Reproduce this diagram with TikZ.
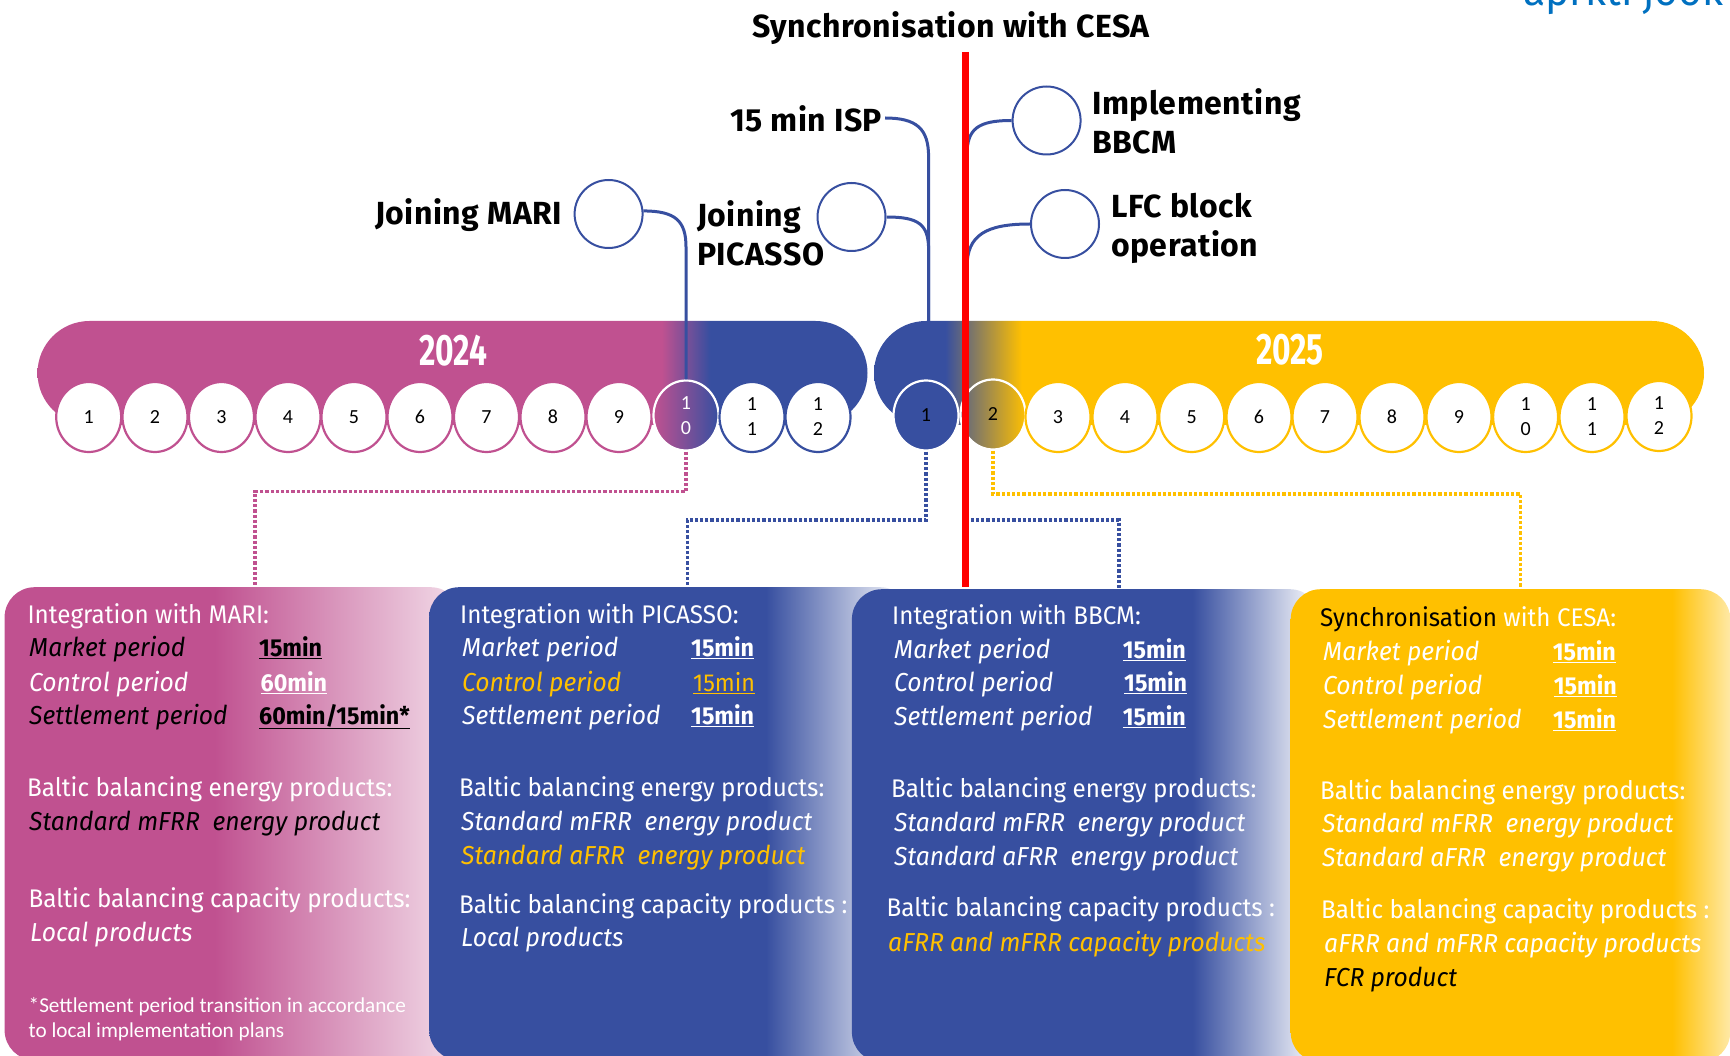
\documentclass[tikz,border=0pt]{standalone}
\usepackage{fontspec}
\setmainfont[FakeStretch = 0.95]{Fira Sans}
\newfontfamily\headfont[FakeStretch = 1, LetterSpace = 1.5]{Fira Sans}
\newfontfamily\notefont{Carlito}
\newfontfamily\digitfont{Carlito}
\newfontfamily\yearfont[FakeStretch = 0.72]{Fira Sans}
\usetikzlibrary{shapes.geometric}

\definecolor{marikey}{HTML}{C05190}
\definecolor{balt}{HTML}{374FA0}
\definecolor{gold}{HTML}{FFC000}
\definecolor{linkblue}{HTML}{0070C0}

\pgfdeclarehorizontalshading{pinkblue}{100bp}{color(0bp)=(marikey); color(62.6bp)=(marikey); color(65.5bp)=(balt); color(100bp)=(balt)}
\pgfdeclarehorizontalshading{bluegold}{100bp}{color(0bp)=(balt); color(29.3bp)=(balt); color(33.9bp)=(gold); color(100bp)=(gold)}
\pgfdeclarehorizontalshading{pinkfade}{100bp}{color(0bp)=(marikey); color(48bp)=(marikey); color(75bp)=(marikey!20!white); color(100bp)=(marikey!20!white)}
\pgfdeclarehorizontalshading{bluefade}{100bp}{color(0bp)=(balt); color(60bp)=(balt); color(75bp)=(white); color(100bp)=(white)}
\pgfdeclarehorizontalshading{bbcmfade}{100bp}{color(0bp)=(balt); color(61.4bp)=(balt); color(75bp)=(white); color(100bp)=(white)}
\pgfdeclarehorizontalshading{goldfade}{100bp}{color(0bp)=(gold); color(68.4bp)=(gold); color(75bp)=(gold!35!white); color(100bp)=(gold!35!white)}

\begin{document}
\begin{tikzpicture}[
    x = 1pt,
    y = -1pt,
    yearbar/.style = {shade,
      inner sep = 0,
      minimum width = {830pt},
      minimum height = {104pt},
      rounded corners = 52pt},
    panel/.style = {shade,
      anchor = north west,
      inner sep = 0,
      minimum height = {473pt},
      rounded corners = 30pt},
    month/.style = {ellipse,
      draw,
      fill = white,
      line width = 2.2pt,
      inner sep = 0,
      align = center,
      font = \digitfont\fontsize{20}{25}\selectfont,
      minimum width = {65pt},
      minimum height = {70pt}},
    pinkring/.style = {draw = marikey},
    bluering/.style = {draw = balt},
    goldring/.style = {draw = gold},
    hot/.style = {draw = white},
    milestone/.style = {circle,
      draw = balt,
      line width = 2pt,
      inner sep = 0,
      minimum size = {68pt}},
    head/.style = {font = \headfont\fontsize{32}{39}\selectfont\bfseries,
      anchor = west,
      align = left,
      inner sep = 0},
    year/.style = {font = \yearfont\fontsize{44}{44}\selectfont\bfseries,
      text = white,
      inner sep = 0},
    link/.style = {draw = balt,
      line width = 3pt},
    dotline/.style = {line width = 3.5pt,
      dash pattern = on 3.2pt off 2pt},
    line/.style = {anchor = west,
      inner sep = 0,
      yshift = -2.5pt,
      text height = 18pt,
      text depth = 6pt,
      font = \fontsize{25.5}{30}\selectfont},
    period/.style = {line, font = \fontsize{26}{30}\selectfont\itshape},
    value/.style = {line, font = \fontsize{24.5}{30}\selectfont\bfseries},
    ]

    \useasboundingbox (0, 0) rectangle (1730, 1056);

    \node at (1523, 6) [anchor = base west, inner sep = 0, text = linkblue,
    font = \fontsize{43}{43}\selectfont, name = cutoff] {aprkti jook};

    % year bars
    \node at (452.5, 373) [yearbar, shading = pinkblue, name = bar2024] {};
    \node at (1289, 373) [yearbar, shading = bluegold, name = bar2025] {};
    \node at (453, 351) [year, name = year2024] {2024};
    \node at (1290, 350) [year, name = year2025] {2025};

    % months 2024
    \node at (88.7, 417) [month, pinkring, name = a1] {1};
    \node at (155, 417) [month, pinkring, name = a2] {2};
    \node at (221.5, 417) [month, pinkring, name = a3] {3};
    \node at (288, 417) [month, pinkring, name = a4] {4};
    \node at (354, 417) [month, pinkring, name = a5] {5};
    \node at (420, 417) [month, pinkring, name = a6] {6};
    \node at (486.5, 417) [month, pinkring, name = a7] {7};
    \node at (553, 417) [month, pinkring, name = a8] {8};
    \node at (619, 417) [month, pinkring, name = a9] {9};
    \node at (686, 415.5) [month, hot, shade, left color = marikey, right color = balt,
    text = white, name = a10] {1\\0};
    \node at (752, 417) [month, bluering, name = a11] {1\\1};
    \node at (818, 417) [month, bluering, name = a12] {1\\2};

    % months 2025
    \node at (926, 415.5) [month, hot, fill = balt, name = b1] {1};
    \node at (993, 414.5) [month, hot, shade, left color = balt!80!gold, right color = gold,
    name = b2] {2};
    \node at (1058, 417) [month, goldring, name = b3] {3};
    \node at (1125, 417) [month, goldring, name = b4] {4};
    \node at (1191.7, 417) [month, goldring, name = b5] {5};
    \node at (1259, 417) [month, goldring, name = b6] {6};
    \node at (1325, 417) [month, goldring, name = b7] {7};
    \node at (1392, 417) [month, goldring, name = b8] {8};
    \node at (1459, 417) [month, goldring, name = b9] {9};
    \node at (1525.6, 417) [month, goldring, name = b10] {1\\0};
    \node at (1592, 417) [month, goldring, name = b11] {1\\1};
    \node at (1659, 416) [month, goldring, name = b12] {1\\2};

    % panels
    \node at (4.4, 587) [panel, shading = pinkfade, minimum width = {456pt}, name = marip] {};
    \node at (429, 587) [panel, shading = bluefade, minimum width = {481pt}, name = picassop] {};
    \node at (851.7, 589) [panel, shading = bbcmfade, minimum width = {468pt}, name = bbcmp] {};
    \node at (1290.5, 589) [panel, shading = goldfade, minimum width = {439.5pt}, name = cesap] {};

    % milestones
    \node at (608.6, 214) [milestone, name = mari] {};
    \node at (851.5, 217) [milestone, name = picasso] {};
    \node at (1046.6, 120.5) [milestone, name = bbcm] {};
    \node at (1065, 224) [milestone, name = lfc] {};

    \node at (951, 28) [head, anchor = center, name = sync] {Synchronisation with CESA};
    \node at (730, 119) [head, name = isp] {15 min ISP};
    \node at (375, 215) [head, name = marilab] {Joining MARI};
    \node at (697, 233) [head, name = picassolab] {Joining\\PICASSO};
    \node at (1092, 121) [head, name = bbcmlab] {Implementing\\BBCM};
    \node at (1111, 228) [head, name = lfclab] {LFC block\\operation};

    \coordinate (ispstart) at (885, 118);
    \coordinate (maribend) at (686, 247);
    \coordinate (picassobend) at (928.6, 250);
    \coordinate (ispbend) at (928.6, 157);
    \coordinate (bbcmbend) at (967, 155);
    \coordinate (lfcbend) at (967, 267);
    \coordinate (cesatop) at (965.6, 52);

    \draw [link] (mari.5) .. controls +(32, 0) and +(0, -26) .. (maribend)
    -- (a10.north);
    \draw [link] (picasso.east) .. controls +(32, 0) and +(0, -26) .. (picassobend)
    -- (picassobend |- bar2025.north);
    \draw [link] (ispstart) .. controls +(32, 0) and +(0, -28) .. (ispbend)
    -- (ispbend |- bar2025.north);
    \draw [link] (bbcm.west) .. controls +(-34, 0) and +(0, -26) .. (bbcmbend);
    \draw [link] (lfc.west) .. controls +(-44, 0) and +(0, -32) .. (lfcbend);

    % dotted leaders
    \coordinate (mariknee) at (255, 491.7);
    \coordinate (picassoknee) at (687.4, 520);
    \coordinate (bbcmknee) at (1119, 520);
    \coordinate (cesaknee) at (1520.6, 494);

    \draw [dotline, marikey] (a10.south) |- (mariknee) -- (mariknee |- marip.north);
    \draw [dotline, balt] (b1.south) |- (picassoknee) -- (picassoknee |- picassop.north);
    \draw [dotline, balt] (cesatop |- bbcmknee) -- (bbcmknee) -- (bbcmknee |- bbcmp.north);
    \draw [dotline, gold] (b2.south) |- (cesaknee) -- (cesaknee |- cesap.north);

    \draw [line width = 6.5pt, red] (cesatop) -- (cesatop |- marip.north);

    % integration with MARI
    \node at (27.4, 615) [line, text = white, name = m1] {Integration with MARI:};
    \node at (29, 648) [period, name = m2] {Market period};
    \node at (259, 648) [value, name = m3] {\underline{15min}};
    \node at (29, 683) [period, text = white, name = m4] {Control period};
    \node at (260.5, 683) [value, text = white, name = m5] {\underline{60min}};
    \node at (29, 716) [period, name = m6] {Settlement period};
    \node at (259, 716) [value, name = m7] {\underline{60min/15min*}};
    \node at (27, 788) [line, text = white, name = m8] {Baltic balancing energy products:};
    \node at (29, 822) [period, name = m9] {Standard mFRR~ energy product};
    \node at (28.5, 899) [line, text = white, name = m10] {Baltic balancing capacity products:};
    \node at (30, 933) [period, text = white, name = m11] {Local products};
    \node at (28.5, 1007) [anchor = west, inner sep = 0, align = left, text = white,
    font = \notefont\fontsize{21.2}{25}\selectfont, yshift = -12.5pt, name = m12]
    {*Settlement period transition in accordance\\to local implementation plans};

    % integration with PICASSO
    \node at (460, 615) [line, text = white, name = p1] {Integration with PICASSO:};
    \node at (462, 648) [period, text = white, name = p2] {Market period};
    \node at (691, 648) [value, text = white, name = p3] {\underline{15min}};
    \node at (462, 683) [period, text = gold, name = p4] {Control period};
    \node at (693, 683) [line, text = gold, font = \fontsize{24.5}{30}\selectfont, name = p5] {\underline{15min}};
    \node at (462, 716) [period, text = white, name = p6] {Settlement period};
    \node at (691, 716) [value, text = white, name = p7] {\underline{15min}};
    \node at (459, 788) [line, text = white, name = p8] {Baltic balancing energy products:};
    \node at (461, 822) [period, text = white, name = p9] {Standard mFRR~ energy product};
    \node at (461, 856) [period, text = gold, name = p10] {Standard aFRR~ energy product};
    \node at (459, 905) [line, text = white, name = p11] {Baltic balancing capacity products :};
    \node at (461, 938) [period, text = white, name = p12] {Local products};

    % integration with BBCM
    \node at (892, 616) [line, text = white, name = c1] {Integration with BBCM:};
    \node at (894, 650) [period, text = white, name = c2] {Market period};
    \node at (1122.7, 650) [value, text = white, name = c3] {\underline{15min}};
    \node at (894, 683) [period, text = white, name = c4] {Control period};
    \node at (1124, 683) [value, text = white, name = c5] {\underline{15min}};
    \node at (894, 717) [period, text = white, name = c6] {Settlement period};
    \node at (1122.7, 717) [value, text = white, name = c7] {\underline{15min}};
    \node at (891, 789) [line, text = white, name = c8] {Baltic balancing energy products:};
    \node at (894, 823) [period, text = white, name = c9] {Standard mFRR~ energy product};
    \node at (894, 857) [period, text = white, name = c10] {Standard aFRR~ energy product};
    \node at (886.5, 908) [line, text = white, name = c11] {Baltic balancing capacity products :};
    \node at (888, 943) [period, text = gold, name = c12] {aFRR and mFRR capacity products};

    % synchronisation with CESA
    \node at (1320, 618) [line, text = white, name = s1] {\textcolor{black}{Synchronisation} with CESA:};
    \node at (1323, 652) [period, text = white, name = s2] {Market period};
    \node at (1552.6, 652) [value, text = white, name = s3] {\underline{15min}};
    \node at (1323, 686) [period, text = white, name = s4] {Control period};
    \node at (1553.6, 686) [value, text = white, name = s5] {\underline{15min}};
    \node at (1323, 720) [period, text = white, name = s6] {Settlement period};
    \node at (1553, 720) [value, text = white, name = s7] {\underline{15min}};
    \node at (1320, 791) [line, text = white, name = s8] {Baltic balancing energy products:};
    \node at (1322, 824) [period, text = white, name = s9] {Standard mFRR~ energy product};
    \node at (1322, 858) [period, text = white, name = s10] {Standard aFRR~ energy product};
    \node at (1321, 910) [line, text = white, name = s11] {Baltic balancing capacity products :};
    \node at (1324, 944) [period, text = white, name = s12] {aFRR and mFRR capacity products};
    \node at (1324, 978) [period, name = s13] {FCR product};

  \end{tikzpicture}
\end{document}
